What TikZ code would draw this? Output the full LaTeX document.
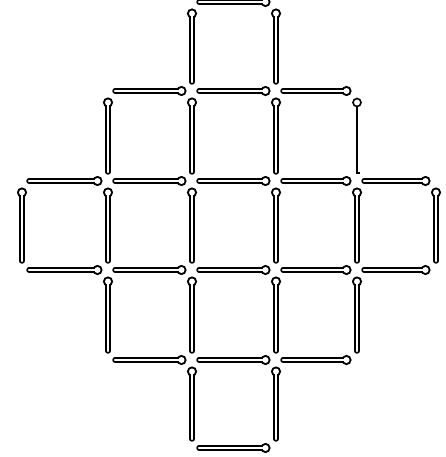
\documentclass[tikz,border=0pt]{standalone}
\newcommand\hmatch[3]{%
  \fill[black] (#2-4.5,#3) circle (5.1pt);
  \draw[black,line width=5.4pt,line cap=round] (#1,#3) -- (#2-4.5,#3);
  \draw[white,line width=2.2pt,line cap=round] (#1,#3) -- (#2-4.5,#3);
  \fill[white] (#2-4.5,#3) circle (3pt);
}
\newcommand\vmatch[3]{%
  \fill[black] (#1,#2+4.5) circle (5.1pt);
  \draw[black,line width=5.4pt,line cap=round] (#1,#2+4.5) -- (#1,#3);
  \draw[white,line width=2.2pt,line cap=round] (#1,#2+4.5) -- (#1,#3);
  \fill[white] (#1,#2+4.5) circle (3pt);
}
\newcommand\vthinmatch[3]{%
  \draw[black,line width=1.5pt] (#1,#2+8) -- (#1,#3) -- (#1+3,#3);
  \draw[black,line width=1.6pt,fill=white] (#1,#2+4.5) circle (4pt);
}
\begin{document}
\begin{tikzpicture}[x=1pt,y=-1pt]
\clip (0,0) rectangle (446,457);
\fill[white] (0,0) rectangle (446,457);
\def\xs{{22,108,192,276,357,436}}
\def\ys{{2,91,181,270,360,448}}
% horizontal matches: column index i (between i and i+1), row j
\foreach \i/\j in {2/0, 1/1,2/1,3/1, 0/2,1/2,2/2,3/2,4/2, 0/3,1/3,2/3,3/3,4/3, 1/4,2/4,3/4, 2/5}{
  \pgfmathsetmacro\xa{\xs[\i]+7}
  \pgfmathsetmacro\xb{\xs[\i+1]-6}
  \pgfmathsetmacro\yy{\ys[\j]}
  \hmatch{\xa}{\xb}{\yy}
}
% vertical matches: column i, row pair j (between j and j+1)
\foreach \i/\j in {0/2, 1/1,1/2,1/3, 2/0,2/1,2/2,2/3,2/4, 3/0,3/1,3/2,3/3,3/4, 4/2,4/3, 5/2}{
  \pgfmathsetmacro\xx{\xs[\i]}
  \pgfmathsetmacro\ya{\ys[\j]+7}
  \pgfmathsetmacro\yb{\ys[\j+1]-9}
  \vmatch{\xx}{\ya}{\yb}
}
\vthinmatch{357}{98}{173}
\end{tikzpicture}
\end{document}
